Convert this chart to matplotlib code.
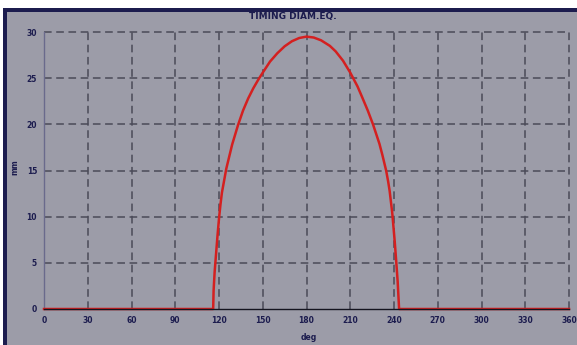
import numpy as np
import matplotlib.pyplot as plt
from matplotlib.patches import Rectangle

# valores (graus, mm)
deg = [0, 116, 116.3, 117, 118, 119, 120, 121, 122, 125, 129, 133, 136.5, 140, 143.5, 146.8,
       150, 155, 160, 165, 170, 175, 180, 185, 190, 196, 200, 205, 210, 212,
       215, 218, 222, 225.6, 230, 232, 234.6, 236, 237, 238.8, 240.5, 241.5, 242.5, 243.5, 360]
mm = [0, 0, 2, 4, 6, 8, 9.8, 11.3, 12.6, 15.2, 17.8, 19.9, 21.5, 22.8, 23.9, 24.8,
      25.6, 26.8, 27.7, 28.45, 29.0, 29.35, 29.5, 29.4, 29.1, 28.5, 27.9, 26.9, 25.6, 25,
      24.1, 23.0, 21.5, 20, 17.9, 16.7, 15, 13.8, 12.8, 10.4, 7.3, 5.2, 3, 0, 0]
xticks = [0, 30, 60, 90, 120, 150, 180, 210, 240, 270, 300, 330, 360]
yticks = [0, 5, 10, 15, 20, 25, 30]

bg = '#9c9ca8'
navy = '#1c1c4e'

fig = plt.figure(figsize=(5.77, 3.45), dpi=100, facecolor='white')
# moldura escura
fig.patches.append(Rectangle((3/577, 0), 1, 1 - 8/345, transform=fig.transFigure,
                             facecolor=navy, edgecolor='none', zorder=-10))
fig.patches.append(Rectangle((7/577, 0), 1, 1 - 12/345, transform=fig.transFigure,
                             facecolor=bg, edgecolor='none', zorder=-9))

ax = fig.add_axes([44/577, 1 - 309/345, 525/577, 277/345])
ax.set_zorder(1)
ax.set_facecolor(bg)
ax.plot(deg, mm, color='#d42020', lw=1.8, clip_on=False, zorder=3)
ax.axhline(0, color='#151520', lw=1.0, zorder=4, clip_on=False)

ax.set_xlim(0, 360)
ax.set_ylim(0, 30)
ax.set_xticks(xticks)
ax.set_yticks(yticks)
for v in xticks[1:]:
    ax.axvline(v, color='#4a4a58', lw=1.1, ls=(0, (5, 3)), zorder=1, clip_on=False)
for v in yticks[1:]:
    ax.axhline(v, color='#4a4a58', lw=1.1, ls=(0, (5, 3)), zorder=1, clip_on=False)

for s in ['top', 'right', 'bottom']:
    ax.spines[s].set_visible(False)
ax.spines['left'].set_color('#6a6a8c')
ax.spines['left'].set_linewidth(1.0)
ax.tick_params(length=0, labelsize=5.5, labelcolor=navy, pad=5)
for lbl in ax.get_xticklabels() + ax.get_yticklabels():
    lbl.set_fontweight('bold')

fig.text(293/577, 1 - 16/345, 'TIMING DIAM.EQ.', ha='center', va='center',
         fontsize=6.5, fontweight='bold', color=navy)
fig.text(309/577, 1 - 338/345, 'deg', ha='center', va='center',
         fontsize=5.5, fontweight='bold', color=navy)
fig.text(15/577, 1 - 167/345, 'mm', ha='center', va='center', rotation=90,
         fontsize=5.5, fontweight='bold', color=navy)

plt.savefig('out.png', dpi=100, facecolor=fig.get_facecolor())
